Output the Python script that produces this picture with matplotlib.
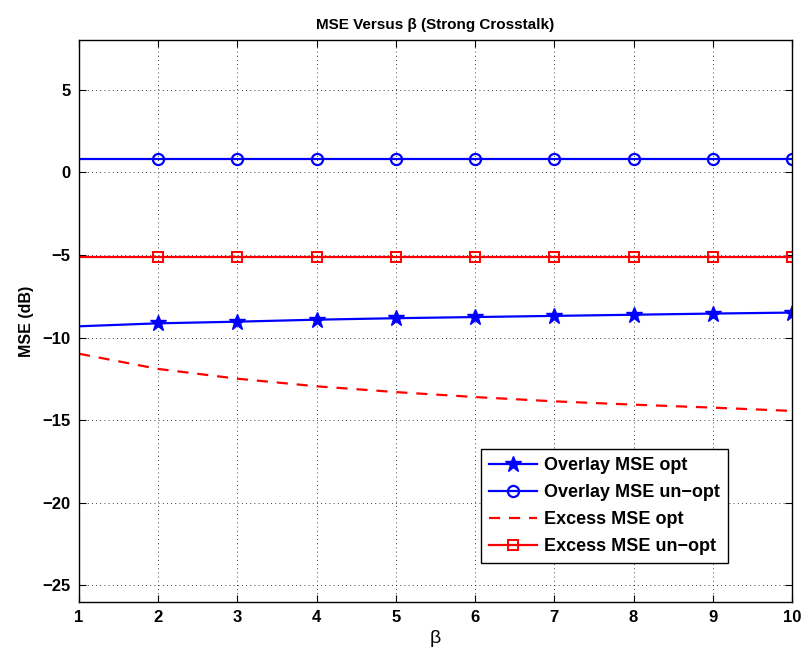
import matplotlib
matplotlib.use("Agg")
import matplotlib.pyplot as plt

plt.rcParams['font.family'] = ['Liberation Sans', 'DejaVu Sans']

beta = [1, 2, 3, 4, 5, 6, 7, 8, 9, 10]
overlay_opt = [-9.32, -9.14, -9.04, -8.92, -8.83, -8.76, -8.69, -8.62, -8.55, -8.49]
overlay_unopt = [0.82, 0.82, 0.82, 0.82, 0.82, 0.82, 0.82, 0.82, 0.82, 0.82]
excess_opt = [-10.98, -11.9, -12.49, -12.95, -13.3, -13.6, -13.86, -14.06, -14.24, -14.44]
excess_unopt = [-5.12, -5.12, -5.12, -5.12, -5.12, -5.12, -5.12, -5.12, -5.12, -5.12]

fig = plt.figure(figsize=(8.05, 6.57), dpi=100)
ax = fig.add_axes([0.0981, 0.0837, 0.8858, 0.8554])

mk = list(range(1, len(beta)))
ax.plot(beta, overlay_opt, color='blue', lw=1.6, marker='*', ms=12, markevery=mk, label='Overlay MSE opt')
ax.plot(beta, overlay_unopt, color='blue', lw=1.6, marker='o', ms=8, mfc='none', mew=1.6, markevery=mk, label='Overlay MSE un\u2212opt')
ax.plot(beta, excess_opt, color='red', lw=1.6, ls=(0, (5, 4)), label='Excess MSE opt')
ax.plot(beta, excess_unopt, color='red', lw=1.6, marker='s', ms=7, mfc='none', mew=1.4, markevery=mk, label='Excess MSE un\u2212opt')

ax.set_xlim(1, 10)
ax.set_ylim(-26, 8)
ax.set_xticks(beta)
ax.set_yticks([-25, -20, -15, -10, -5, 0, 5])
ax.set_yticklabels(['\u221225', '\u221220', '\u221215', '\u221210', '\u22125', '0', '5'])
ax.grid(True, color='black', ls=(0, (1, 4)), lw=0.6)
ax.tick_params(direction='in', top=True, right=True, labelsize=12, length=5, pad=6)
for lab in ax.get_xticklabels() + ax.get_yticklabels():
    lab.set_fontweight('bold')
for s in ax.spines.values():
    s.set_linewidth(1.0)

ax.set_title('MSE Versus \u03b2 (Strong Crosstalk)', fontsize=11, fontweight='bold', pad=8)
ax.set_xlabel('\u03b2', fontsize=14, labelpad=3)
ax.set_ylabel('MSE (dB)', fontsize=11.5, fontweight='bold', labelpad=6)

leg = ax.legend(loc='lower left', bbox_to_anchor=(0.564, 0.069), prop={'weight': 'bold', 'size': 13},
                fancybox=False, edgecolor='black', framealpha=1, handlelength=2.65,
                borderpad=0.45, labelspacing=0.55, handletextpad=0.4, borderaxespad=0)
leg.get_frame().set_linewidth(1.0)

fig.savefig('out.png', dpi=100)
